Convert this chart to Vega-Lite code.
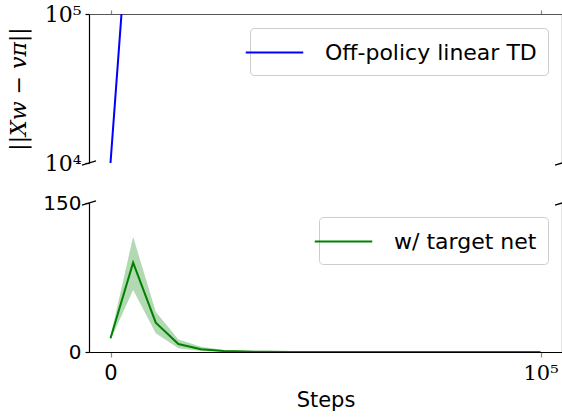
{
  "$schema": "https://vega.github.io/schema/vega-lite/v6.json",
  "background": "white",
  "padding": {"left": 7, "top": 3, "right": 0, "bottom": 3},
  "spacing": 40,
  "bounds": "flush",
  "config": {
    "view": {"stroke": null},
    "font": "DejaVu Sans",
    "axis": {"grid": false, "domainWidth": 1.2, "tickWidth": 1.2, "labelColor": "black", "titleColor": "black", "titleFontWeight": "normal"},
    "legend": {
      "orient": "top-right", "offset": 14, "padding": 11,
      "strokeColor": "#cccccc", "fillColor": "rgba(255,255,255,0.8)", "cornerRadius": 4,
      "symbolType": "M-2.3,0L2.3,0", "symbolSize": 625, "symbolStrokeWidth": 2,
      "labelFont": "DejaVu Sans", "labelFontSize": 22, "labelOffset": 37, "labelColor": "black", "labelLimit": 400
    }
  },
  "datasets": {
    "td": [
      {"step": 0, "value": 10000, "series": "Off-policy linear TD"},
      {"step": 5263, "value": 1150000, "series": "Off-policy linear TD"},
      {"step": 10526, "value": 130000000, "series": "Off-policy linear TD"},
      {"step": 15789, "value": 15000000000, "series": "Off-policy linear TD"},
      {"step": 21053, "value": 1.7e12, "series": "Off-policy linear TD"},
      {"step": 26316, "value": 2e14, "series": "Off-policy linear TD"},
      {"step": 31579, "value": 2.3e16, "series": "Off-policy linear TD"},
      {"step": 36842, "value": 2.6e18, "series": "Off-policy linear TD"},
      {"step": 42105, "value": 3e20, "series": "Off-policy linear TD"},
      {"step": 47368, "value": 3.4e22, "series": "Off-policy linear TD"},
      {"step": 52632, "value": 3.9e24, "series": "Off-policy linear TD"},
      {"step": 57895, "value": 4.5e26, "series": "Off-policy linear TD"},
      {"step": 63158, "value": 5.2e28, "series": "Off-policy linear TD"},
      {"step": 68421, "value": 6e30, "series": "Off-policy linear TD"},
      {"step": 73684, "value": 6.9e32, "series": "Off-policy linear TD"},
      {"step": 78947, "value": 8e34, "series": "Off-policy linear TD"},
      {"step": 84211, "value": 9.2e36, "series": "Off-policy linear TD"},
      {"step": 89474, "value": 1.06e39, "series": "Off-policy linear TD"},
      {"step": 94737, "value": 1.2e41, "series": "Off-policy linear TD"},
      {"step": 100000, "value": 1.4e43, "series": "Off-policy linear TD"}
    ],
    "tn": [
      {"step": 0, "value": 13.8, "lo": 12, "hi": 15.6, "series": "w/ target net"},
      {"step": 5263, "value": 90, "lo": 62.4, "hi": 116, "series": "w/ target net"},
      {"step": 10526, "value": 29.5, "lo": 18.8, "hi": 40.6, "series": "w/ target net"},
      {"step": 15789, "value": 8, "lo": 3.7, "hi": 12.7, "series": "w/ target net"},
      {"step": 21053, "value": 2.7, "lo": 1, "hi": 5.4, "series": "w/ target net"},
      {"step": 26316, "value": 1, "lo": 0.3, "hi": 2, "series": "w/ target net"},
      {"step": 31579, "value": 0.4, "lo": 0.1, "hi": 0.9, "series": "w/ target net"},
      {"step": 36842, "value": 0.2, "lo": 0.05, "hi": 0.4, "series": "w/ target net"},
      {"step": 42105, "value": 0.1, "lo": 0.02, "hi": 0.2, "series": "w/ target net"},
      {"step": 47368, "value": 0.05, "lo": 0.01, "hi": 0.1, "series": "w/ target net"},
      {"step": 52632, "value": 0.03, "lo": 0.005, "hi": 0.06, "series": "w/ target net"},
      {"step": 57895, "value": 0.02, "lo": 0.004, "hi": 0.04, "series": "w/ target net"},
      {"step": 63158, "value": 0.015, "lo": 0.003, "hi": 0.03, "series": "w/ target net"},
      {"step": 68421, "value": 0.01, "lo": 0.002, "hi": 0.02, "series": "w/ target net"},
      {"step": 73684, "value": 0.01, "lo": 0.002, "hi": 0.02, "series": "w/ target net"},
      {"step": 78947, "value": 0.01, "lo": 0.002, "hi": 0.02, "series": "w/ target net"},
      {"step": 84211, "value": 0.01, "lo": 0.002, "hi": 0.02, "series": "w/ target net"},
      {"step": 89474, "value": 0.01, "lo": 0.002, "hi": 0.02, "series": "w/ target net"},
      {"step": 94737, "value": 0.01, "lo": 0.002, "hi": 0.02, "series": "w/ target net"},
      {"step": 100000, "value": 0.01, "lo": 0.002, "hi": 0.02, "series": "w/ target net"}
    ],
    "brkTop": [
      {"step": -5000, "value": 10000},
      {"step": 105000, "value": 10000}
    ],
    "brkBot": [
      {"step": -5000, "value": 150},
      {"step": 105000, "value": 150}
    ]
  },
  "resolve": {"scale": {"color": "independent"}, "legend": {"color": "independent"}},
  "vconcat": [
    {
      "width": 473,
      "height": 149,
      "resolve": {"scale": {"y": "independent"}},
      "layer": [
        {
          "data": {"name": "td"},
          "mark": {"type": "line", "clip": true, "strokeWidth": 2},
          "encoding": {
            "x": {"field": "step", "type": "quantitative", "scale": {"domain": [-5000, 105000], "nice": false, "zero": false},
                  "axis": {"orient": "top", "values": [0, 100000], "labels": false, "tickSize": 4, "tickColor": "#888888", "domainColor": "#555555", "title": null}},
            "y": {"field": "value", "type": "quantitative", "scale": {"type": "log", "domain": [10000, 100000], "nice": false},
                  "axis": {"orient": "left", "values": [10000, 100000], "labelExpr": "datum.value >= 50000 ? '10⁵' : '10⁴'",
                           "labelFont": "DejaVu Serif", "labelFontSize": 22, "labelPadding": 4, "tickSize": 4, "tickColor": "black", "domainColor": "black",
                           "title": "||Xw − vπ||", "titleFont": "DejaVu Serif", "titleFontStyle": "italic", "titleFontSize": 22, "titlePadding": 14}},
            "color": {"field": "series", "type": "nominal", "scale": {"domain": ["Off-policy linear TD"], "range": ["#0000ff"]}, "legend": {"title": null}}
          }
        },
        {
          "data": {"name": "brkTop"},
          "mark": {"type": "point", "shape": "M-1,0.29L1,-0.29", "size": 196, "filled": false, "stroke": "black", "strokeWidth": 1.3, "opacity": 1, "clip": false},
          "encoding": {
            "x": {"field": "step", "type": "quantitative", "scale": {"domain": [-5000, 105000], "nice": false, "zero": false},
                  "axis": {"orient": "top", "values": [0, 100000], "labels": false, "tickSize": 4, "tickColor": "#888888", "domainColor": "#555555", "title": null}},
            "y": {"field": "value", "type": "quantitative", "scale": {"type": "log", "domain": [10000, 100000], "nice": false},
                  "axis": {"orient": "right", "labels": false, "ticks": false, "title": null, "domainColor": "black"}}
          }
        }
      ]
    },
    {
      "width": 473,
      "height": 149,
      "resolve": {"scale": {"y": "independent"}},
      "layer": [
        {
          "data": {"name": "tn"},
          "mark": {"type": "area", "color": "green", "opacity": 0.3, "clip": true},
          "encoding": {
            "x": {"field": "step", "type": "quantitative", "scale": {"domain": [-5000, 105000], "nice": false, "zero": false},
                  "axis": {"orient": "bottom", "values": [0, 100000], "labelExpr": "datum.value == 0 ? '0' : '10⁵'",
                           "labelFont": {"condition": {"test": "datum.value == 0", "value": "DejaVu Sans"}, "value": "DejaVu Serif"},
                           "labelFontSize": 21, "labelPadding": 5, "tickSize": 5, "tickColor": "#888888", "domainColor": "black",
                           "title": "Steps", "titleFont": "DejaVu Sans", "titleFontSize": 21, "titlePadding": 6}},
            "y": {"field": "lo", "type": "quantitative", "scale": {"domain": [0, 150], "nice": false},
                  "axis": {"orient": "left", "values": [0, 150], "labelFont": "DejaVu Sans", "labelFontSize": 20, "labelPadding": 4, "tickSize": 4, "tickColor": "black", "domainColor": "black", "title": null}},
            "y2": {"field": "hi"}
          }
        },
        {
          "data": {"name": "tn"},
          "mark": {"type": "line", "clip": true, "strokeWidth": 2},
          "encoding": {
            "x": {"field": "step", "type": "quantitative", "scale": {"domain": [-5000, 105000], "nice": false, "zero": false},
                  "axis": {"orient": "bottom", "values": [0, 100000], "labelExpr": "datum.value == 0 ? '0' : '10⁵'",
                           "labelFont": {"condition": {"test": "datum.value == 0", "value": "DejaVu Sans"}, "value": "DejaVu Serif"},
                           "labelFontSize": 21, "labelPadding": 5, "tickSize": 5, "tickColor": "#888888", "domainColor": "black",
                           "title": "Steps", "titleFont": "DejaVu Sans", "titleFontSize": 21, "titlePadding": 6}},
            "y": {"field": "value", "type": "quantitative", "scale": {"domain": [0, 150], "nice": false}, "axis": null},
            "color": {"field": "series", "type": "nominal", "scale": {"domain": ["w/ target net"], "range": ["#008000"]}, "legend": {"title": null}}
          }
        },
        {
          "data": {"name": "brkBot"},
          "mark": {"type": "point", "shape": "M-1,0.29L1,-0.29", "size": 196, "filled": false, "stroke": "black", "strokeWidth": 1.3, "opacity": 1, "clip": false},
          "encoding": {
            "x": {"field": "step", "type": "quantitative", "scale": {"domain": [-5000, 105000], "nice": false, "zero": false},
                  "axis": {"orient": "bottom", "values": [0, 100000], "labelExpr": "datum.value == 0 ? '0' : '10⁵'",
                           "labelFont": {"condition": {"test": "datum.value == 0", "value": "DejaVu Sans"}, "value": "DejaVu Serif"},
                           "labelFontSize": 21, "labelPadding": 5, "tickSize": 5, "tickColor": "#888888", "domainColor": "black",
                           "title": "Steps", "titleFont": "DejaVu Sans", "titleFontSize": 21, "titlePadding": 6}},
            "y": {"field": "value", "type": "quantitative", "scale": {"domain": [0, 150], "nice": false},
                  "axis": {"orient": "right", "labels": false, "ticks": false, "title": null, "domainColor": "black"}}
          }
        }
      ]
    }
  ]
}
